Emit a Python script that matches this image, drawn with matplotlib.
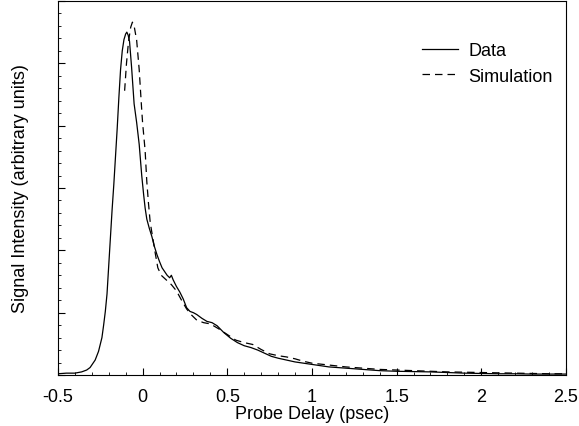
import matplotlib.pyplot as plt
from matplotlib.ticker import MultipleLocator, NullFormatter

data_x = [-0.5, -0.45, -0.4, -0.36, -0.33, -0.31, -0.28, -0.26, -0.24, -0.23,
          -0.22, -0.21, -0.20, -0.19, -0.18, -0.17, -0.16, -0.15, -0.14, -0.13,
          -0.12, -0.11, -0.10, -0.093, -0.085, -0.077, -0.065, -0.05, -0.035, -0.02,
          -0.005, 0.006, 0.015, 0.025, 0.04, 0.055, 0.07, 0.085, 0.10, 0.115,
          0.13, 0.145, 0.16, 0.17, 0.18, 0.20, 0.22, 0.24, 0.26, 0.28,
          0.30, 0.32, 0.35, 0.38, 0.41, 0.44, 0.48, 0.52, 0.56, 0.60,
          0.64, 0.68, 0.72, 0.76, 0.80, 0.85, 0.90, 0.95, 1.0, 1.1,
          1.2, 1.3, 1.4, 1.5, 1.6, 1.7, 1.8, 1.9, 2.0, 2.1,
          2.2, 2.3, 2.4, 2.5]
data_y = [0.02, 0.03, 0.03, 0.05, 0.08, 0.12, 0.24, 0.38, 0.6, 0.8,
          1.02, 1.3, 1.75, 2.2, 2.65, 3.05, 3.5, 3.95, 4.45, 4.9,
          5.2, 5.38, 5.47, 5.50, 5.45, 5.35, 4.94, 4.35, 4.05, 3.7,
          3.2, 2.9, 2.68, 2.5, 2.35, 2.22, 2.06, 1.93, 1.82, 1.72,
          1.66, 1.60, 1.56, 1.60, 1.53, 1.42, 1.33, 1.22, 1.08, 1.02,
          1.0, 0.97, 0.91, 0.86, 0.84, 0.79, 0.68, 0.59, 0.52, 0.47,
          0.44, 0.40, 0.35, 0.30, 0.27, 0.24, 0.21, 0.19, 0.17, 0.13,
          0.11, 0.09, 0.07, 0.06, 0.055, 0.05, 0.04, 0.03, 0.025, 0.02,
          0.02, 0.015, 0.015, 0.015]

# Simulated signal
sim_x = [-0.106, -0.095, -0.083, -0.07, -0.06, -0.05, -0.035, -0.02, -0.006, 0.0,
         0.015, 0.025, 0.035, 0.045, 0.06, 0.075, 0.09, 0.11, 0.13, 0.15,
         0.17, 0.20, 0.23, 0.26, 0.29, 0.32, 0.36, 0.40, 0.45, 0.50,
         0.55, 0.60, 0.65, 0.70, 0.75, 0.80, 0.85, 0.90, 0.95, 1.0,
         1.1, 1.2, 1.3, 1.4, 1.5, 1.6, 1.7, 1.8, 1.9, 2.0,
         2.1, 2.2, 2.3, 2.4, 2.5]
sim_y = [4.56, 5.0, 5.35, 5.58, 5.66, 5.6, 5.37, 4.9, 4.29, 4.05,
         3.6, 3.1, 2.75, 2.45, 2.2, 1.95, 1.72, 1.6, 1.55, 1.5,
         1.45, 1.35, 1.2, 1.06, 0.96, 0.88, 0.84, 0.82, 0.74, 0.65,
         0.56, 0.52, 0.49, 0.41, 0.34, 0.31, 0.29, 0.26, 0.22, 0.19,
         0.16, 0.13, 0.11, 0.09, 0.08, 0.07, 0.06, 0.05, 0.045, 0.04,
         0.035, 0.03, 0.025, 0.02, 0.02]

plt.rcParams['font.family'] = ['Liberation Sans', 'DejaVu Sans']
FS = 13

fig = plt.figure(figsize=(5.79, 4.27), dpi=100)
ax = fig.add_axes([0.100, 0.1194, 0.8775, 0.876])

ax.plot(data_x, data_y, color='black', lw=0.9, label='Data')
ax.plot(sim_x, sim_y, color='black', lw=0.9, dashes=(6, 4), label='Simulation')

ax.set_xlim(-0.5, 2.5)
ax.set_ylim(0, 6)
ax.xaxis.set_major_locator(MultipleLocator(0.5))
ax.xaxis.set_minor_locator(MultipleLocator(0.1))
ax.yaxis.set_major_locator(MultipleLocator(1))
ax.yaxis.set_minor_locator(MultipleLocator(0.2))
ax.yaxis.set_major_formatter(NullFormatter())
ax.xaxis.set_major_formatter(plt.FuncFormatter(lambda v, p: f"{v:g}"))
ax.tick_params(which='both', direction='in', top=False, right=False, labelsize=FS)
ax.tick_params(which='major', length=5, width=0.8)
ax.tick_params(which='minor', length=2.5, width=0.6)
ax.tick_params(axis='x', pad=9)

ax.set_xlabel('Probe Delay (psec)', fontsize=FS, labelpad=0)
ax.set_ylabel('Signal Intensity (arbitrary units)', fontsize=FS, labelpad=17)

ax.legend(loc='upper left', frameon=False, fontsize=FS, handlelength=2.0,
          handletextpad=0.55, bbox_to_anchor=(0.717, 0.889), borderpad=0,
          borderaxespad=0, labelspacing=0.45)

fig.savefig('out.png', dpi=100)
